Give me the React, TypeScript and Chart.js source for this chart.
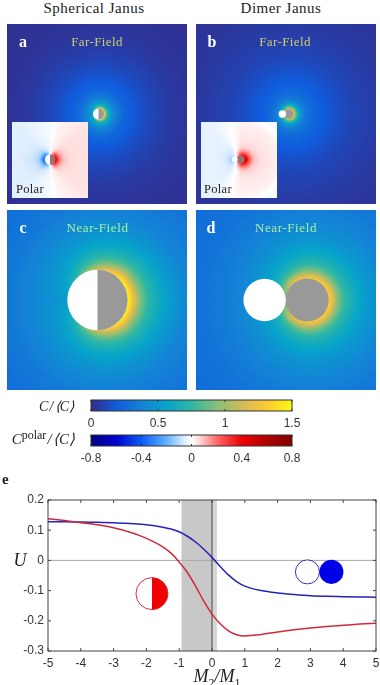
import React, { useEffect, useRef } from "react";
import { Chart, registerables } from "chart.js";

Chart.register(...registerables);

/* ---------- line panel e ---------- */
const ratioX = [-5, -4.5, -4, -3.5, -3, -2.5, -2, -1.5, -1.25, -1, -0.75, -0.5, -0.25, 0, 0.25, 0.5, 0.75, 1, 1.5, 2, 2.5, 3, 3.5, 4, 4.5, 5];
const dimerU = [0.128, 0.128, 0.127, 0.126, 0.125, 0.122, 0.118, 0.11, 0.104, 0.095, 0.08, 0.061, 0.037, 0.01, -0.02, -0.048, -0.07, -0.085, -0.1, -0.108, -0.113, -0.117, -0.119, -0.12, -0.121, -0.122];
const janusU = [0.138, 0.132, 0.125, 0.118, 0.108, 0.093, 0.073, 0.045, 0.024, -0.005, -0.04, -0.085, -0.135, -0.178, -0.21, -0.233, -0.246, -0.25, -0.245, -0.237, -0.23, -0.224, -0.219, -0.215, -0.211, -0.208];
const xTicks = [-5, -4, -3, -2, -1, 0, 1, 2, 3, 4, 5];
const yTicks = [-0.3, -0.2, -0.1, 0, 0.1, 0.2];
const bandDark = [-0.93, 0];
const bandLight = [0, 0.15];
const janusIcon = [-1.83, -0.11, 0.488];
const dimerIconLeft = [2.91, -0.038, 0.366];
const dimerIconRight = [3.64, -0.038, 0.366];

/* ---------- colour maps ---------- */
const parulaStops: [number, string][] = [
  [0, "#352a87"], [0.1875, "#0f5cdd"], [0.375, "#1481d6"], [0.5625, "#06a4ca"], [0.75, "#2eb7a4"],
  [0.9375, "#87bf77"], [1.125, "#d1bb59"], [1.3125, "#fec832"], [1.5, "#f9fb0e"],
];
const polarStops: [number, string][] = [
  [-0.8, "#00007f"], [-0.6, "#0000d0"], [-0.4, "#0a5cf5"], [-0.2, "#60b0ff"], [-0.06, "#dcecff"], [0, "#ffffff"],
  [0.06, "#ffdcdc"], [0.2, "#ff6a6a"], [0.4, "#ef0000"], [0.6, "#b00000"], [0.8, "#7f0000"],
];
const parulaTicks = [0, 0.5, 1, 1.5];
const polarTicks = [-0.8, -0.4, 0, 0.4, 0.8];

/* ---------- fields, read by eye: value by angle (rows) and radius (columns) ---------- */
const anglesFive = [0, 45, 90, 135, 180];
const radiiC = [30, 32, 36, 42, 50, 60, 70, 90, 135];
const fieldC = [
  [1.5, 1.42, 1.22, 0.95, 0.76, 0.63, 0.54, 0.4, 0.29],
  [1.45, 1.38, 1.15, 0.9, 0.72, 0.6, 0.5, 0.38, 0.28],
  [1.2, 1.05, 0.88, 0.74, 0.62, 0.52, 0.46, 0.37, 0.27],
  [0.7, 0.68, 0.62, 0.56, 0.5, 0.45, 0.41, 0.34, 0.26],
  [0.52, 0.5, 0.48, 0.46, 0.44, 0.41, 0.38, 0.32, 0.25],
];
const radiiD = [21, 26, 30, 36, 45, 60, 80, 105, 150];
const fieldD = [
  [1.36, 1.16, 0.95, 0.78, 0.65, 0.5, 0.4, 0.34, 0.27],
  [1.36, 1.14, 0.93, 0.77, 0.63, 0.5, 0.4, 0.33, 0.27],
  [1.3, 1.08, 0.9, 0.74, 0.61, 0.48, 0.39, 0.32, 0.27],
  [1.2, 1.0, 0.8, 0.66, 0.55, 0.45, 0.37, 0.31, 0.26],
  [0.8, 0.72, 0.66, 0.6, 0.52, 0.42, 0.35, 0.3, 0.25],
];
const radiiA = [5, 6.5, 8, 10, 13, 17, 25, 40, 55, 70, 90, 135];
const fieldA = [
  [1.35, 1.2, 0.85, 0.68, 0.5, 0.37, 0.24, 0.15, 0.1, 0.065, 0.04, 0.02],
  [1.3, 1.15, 0.8, 0.64, 0.48, 0.36, 0.24, 0.15, 0.1, 0.065, 0.04, 0.02],
  [1.1, 0.95, 0.7, 0.58, 0.45, 0.34, 0.23, 0.145, 0.095, 0.06, 0.04, 0.02],
  [0.7, 0.62, 0.55, 0.5, 0.4, 0.31, 0.22, 0.14, 0.09, 0.06, 0.035, 0.02],
  [0.5, 0.48, 0.45, 0.42, 0.36, 0.29, 0.21, 0.135, 0.09, 0.055, 0.035, 0.02],
];
const radiiB = [4.5, 7, 10, 14, 20, 30, 45, 60, 80, 100, 135];
const fieldB = [
  [1.25, 0.9, 0.58, 0.38, 0.28, 0.21, 0.15, 0.105, 0.075, 0.055, 0.035],
  [1.25, 0.9, 0.58, 0.38, 0.28, 0.21, 0.15, 0.105, 0.075, 0.055, 0.035],
  [1.2, 0.85, 0.55, 0.36, 0.27, 0.2, 0.14, 0.1, 0.07, 0.05, 0.035],
  [1.1, 0.7, 0.48, 0.33, 0.25, 0.19, 0.135, 0.095, 0.07, 0.05, 0.03],
  [0.7, 0.55, 0.42, 0.32, 0.24, 0.18, 0.13, 0.09, 0.065, 0.045, 0.03],
];
const anglesPolarA = [0, 45, 75, 90, 135, 180];
const radiiPolarA = [5, 7, 10, 14, 20, 30, 45, 60, 110];
const polarA = [
  [0.55, 0.35, 0.17, 0.09, 0.065, 0.055, 0.05, 0.045, 0.04],
  [0.4, 0.25, 0.12, 0.07, 0.055, 0.05, 0.045, 0.04, 0.035],
  [0.12, 0.07, 0.04, 0.025, 0.02, 0.02, 0.015, 0.01, 0.005],
  [-0.05, -0.04, -0.03, -0.02, -0.015, -0.015, -0.015, -0.02, -0.02],
  [-0.35, -0.22, -0.12, -0.08, -0.06, -0.05, -0.05, -0.05, -0.05],
  [-0.42, -0.3, -0.14, -0.09, -0.07, -0.055, -0.05, -0.05, -0.05],
];
const anglesPolarB = [0, 90, 135, 180];
const radiiPolarB = [4, 6, 9, 13, 20, 30, 38, 45, 110];
const polarB = [
  [0.55, 0.42, 0.22, 0.1, 0.055, 0.04, 0.03, 0.0, -0.04],
  [0.3, 0.22, 0.12, 0.06, 0.04, 0.03, 0.015, -0.03, -0.04],
  [0.12, 0.06, -0.04, -0.06, -0.045, -0.04, -0.04, -0.04, -0.04],
  [0, -0.3, -0.15, -0.08, -0.05, -0.04, -0.04, -0.04, -0.04],
];

/* centre x, centre y, radius, in panel units */
const panelCJanus = [0.5, 0, 30.2];
const panelAJanus = [1.5, 0, 5.6];
const panelAInsetJanus = [-47, -45.5, 5.2];
const panelDCold = [-21.4, 0, 21.2];
const panelDHot = [21.2, 0, 21.5];
const panelBCold = [-3.7, 0, 3.7];
const panelBHot = [2.7, 0, 4.7];
const panelBInsetCold = [-51.3, -45.5, 3.0];
const panelBInsetHot = [-45.3, -45.5, 4.0];

/* ---------- helpers ---------- */
function hexRgb(h: string) {
  return [parseInt(h.slice(1, 3), 16), parseInt(h.slice(3, 5), 16), parseInt(h.slice(5, 7), 16)];
}
function colorOf(stops: [number, string][], v: number) {
  if (v <= stops[0][0]) return hexRgb(stops[0][1]);
  for (let i = 1; i < stops.length; i++) {
    if (v <= stops[i][0]) {
      const t = (v - stops[i - 1][0]) / (stops[i][0] - stops[i - 1][0]);
      const a = hexRgb(stops[i - 1][1]);
      const b = hexRgb(stops[i][1]);
      return [a[0] + (b[0] - a[0]) * t, a[1] + (b[1] - a[1]) * t, a[2] + (b[2] - a[2]) * t];
    }
  }
  return hexRgb(stops[stops.length - 1][1]);
}
function locate(arr: number[], v: number): [number, number] {
  if (v <= arr[0]) return [0, 0];
  for (let i = 1; i < arr.length; i++) {
    if (v <= arr[i]) return [i - 1, (v - arr[i - 1]) / (arr[i] - arr[i - 1])];
  }
  return [arr.length - 2, 1];
}
type Field = { cx: number; cy: number; angles: number[]; radii: number[]; table: number[][]; stops: [number, string][] };

function paintField(chart: any, f: Field, x0: number, x1: number, y0: number, y1: number) {
  const xs = chart.scales.x;
  const ys = chart.scales.y;
  const px0 = Math.round(xs.getPixelForValue(x0));
  const px1 = Math.round(xs.getPixelForValue(x1));
  const py0 = Math.round(ys.getPixelForValue(y1));
  const py1 = Math.round(ys.getPixelForValue(y0));
  const w = px1 - px0;
  const h = py1 - py0;
  const img = chart.ctx.createImageData(w, h);
  for (let j = 0; j < h; j++) {
    for (let i = 0; i < w; i++) {
      const dx = xs.getValueForPixel(px0 + i + 0.5) - f.cx;
      const dy = ys.getValueForPixel(py0 + j + 0.5) - f.cy;
      const r = Math.hypot(dx, dy);
      const th = (Math.atan2(Math.abs(dy), dx) * 180) / Math.PI;
      const [ai, at] = locate(f.angles, th);
      const [ri, rt] = locate(f.radii, r);
      const a = f.table[ai][ri] + (f.table[ai][ri + 1] - f.table[ai][ri]) * rt;
      const b = f.table[ai + 1][ri] + (f.table[ai + 1][ri + 1] - f.table[ai + 1][ri]) * rt;
      const c = colorOf(f.stops, a + (b - a) * at);
      const k = (j * w + i) * 4;
      img.data[k] = c[0];
      img.data[k + 1] = c[1];
      img.data[k + 2] = c[2];
      img.data[k + 3] = 255;
    }
  }
  chart.ctx.putImageData(img, px0, py0);
}

function disc(chart: any, c: number[], fill: string, rim?: string, rimW = 1) {
  const xs = chart.scales.x;
  const ys = chart.scales.y;
  const x = xs.getPixelForValue(c[0]);
  const y = ys.getPixelForValue(c[1]);
  const r = Math.abs(xs.getPixelForValue(c[0] + c[2]) - x);
  const ctx = chart.ctx;
  ctx.beginPath();
  ctx.arc(x, y, r, 0, Math.PI * 2);
  ctx.fillStyle = fill;
  ctx.fill();
  if (rim) {
    ctx.strokeStyle = rim;
    ctx.lineWidth = rimW;
    ctx.stroke();
  }
}
function halfDisc(chart: any, c: number[], fill: string) {
  const xs = chart.scales.x;
  const ys = chart.scales.y;
  const x = xs.getPixelForValue(c[0]);
  const y = ys.getPixelForValue(c[1]);
  const r = Math.abs(xs.getPixelForValue(c[0] + c[2]) - x);
  const ctx = chart.ctx;
  ctx.beginPath();
  ctx.arc(x, y, r, -Math.PI / 2, Math.PI / 2);
  ctx.closePath();
  ctx.fillStyle = fill;
  ctx.fill();
}

const hiddenAxis = { type: "linear", min: -90, max: 90, display: false };

function panelConfig(draw: (chart: any) => void) {
  return {
    type: "scatter",
    data: { datasets: [] },
    options: {
      animation: false,
      responsive: false,
      layout: { padding: 0 },
      plugins: { legend: { display: false }, tooltip: { enabled: false } },
      scales: { x: hiddenAxis, y: hiddenAxis },
    },
    plugins: [{ id: "field", beforeDatasetsDraw: draw }],
  };
}

function tickFormat(v: any) {
  return v === 0 ? "0" : String(v);
}

function barConfig(stops: [number, string][], ticks: number[]) {
  return {
    type: "scatter",
    data: { datasets: [] },
    options: {
      animation: false,
      responsive: false,
      layout: { padding: { left: 40, right: 40, top: 1, bottom: 0 } },
      plugins: { legend: { display: false }, tooltip: { enabled: false } },
      scales: {
        y: { display: false, min: 0, max: 1 },
        x: {
          type: "linear",
          min: ticks[0],
          max: ticks[ticks.length - 1],
          grid: { display: false, drawTicks: false },
          border: { display: false },
          afterBuildTicks: (s: any) => { s.ticks = ticks.map((value) => ({ value })); },
          afterFit: (s: any) => { s.height = 20; s.paddingLeft = 0; s.paddingRight = 0; },
          ticks: {
            padding: 5,
            maxRotation: 0,
            autoSkip: false,
            color: "#333333",
            font: { family: "Liberation Sans", size: 12 },
            callback: tickFormat,
          },
        },
      },
    },
    plugins: [{
      id: "ramp",
      beforeDatasetsDraw(chart: any) {
        const { ctx, chartArea: a, scales } = chart;
        const span = ticks[ticks.length - 1] - ticks[0];
        const g = ctx.createLinearGradient(a.left, 0, a.right, 0);
        stops.forEach(([v, c]) => g.addColorStop((v - ticks[0]) / span, c));
        ctx.fillStyle = g;
        ctx.fillRect(a.left, a.top, a.right - a.left, a.bottom - a.top);
        ctx.strokeStyle = "#333333";
        ctx.lineWidth = 1;
        ctx.strokeRect(a.left, a.top, a.right - a.left, a.bottom - a.top);
        ticks.forEach((v) => {
          const x = scales.x.getPixelForValue(v);
          ctx.beginPath();
          ctx.moveTo(x, a.bottom);
          ctx.lineTo(x, a.bottom - 2);
          ctx.moveTo(x, a.top);
          ctx.lineTo(x, a.top + 2);
          ctx.stroke();
        });
      },
    }],
  };
}

const potentialConfig = {
  type: "line",
  data: {
    labels: ratioX,
    datasets: [
      {
        label: "Spherical Janus",
        data: ratioX.map((x, i) => ({ x, y: janusU[i] })),
        borderColor: "#cf2a3c",
        borderWidth: 1.5,
        pointRadius: 0,
        cubicInterpolationMode: "monotone",
      },
      {
        label: "Dimer Janus",
        data: ratioX.map((x, i) => ({ x, y: dimerU[i] })),
        borderColor: "#2424b8",
        borderWidth: 1.5,
        pointRadius: 0,
        cubicInterpolationMode: "monotone",
      },
    ],
  },
  options: {
    animation: false,
    responsive: false,
    layout: { padding: { left: 0, right: 4, top: 10, bottom: 0 } },
    plugins: { legend: { display: false }, tooltip: { enabled: false } },
    scales: {
      x: {
        type: "linear",
        min: -5,
        max: 5,
        grid: { display: false, drawTicks: false },
        border: { display: false },
        afterBuildTicks: (s: any) => { s.ticks = xTicks.map((value) => ({ value })); },
        afterFit: (s: any) => { s.height = 34; s.paddingLeft = 0; s.paddingRight = 0; },
        ticks: { padding: 5, maxRotation: 0, autoSkip: false, color: "#333333", font: { family: "Liberation Sans", size: 12 }, callback: tickFormat },
      },
      y: {
        type: "linear",
        min: -0.3,
        max: 0.2,
        grid: { display: false, drawTicks: false },
        border: { display: false },
        afterBuildTicks: (s: any) => { s.ticks = yTicks.map((value) => ({ value })); },
        afterFit: (s: any) => { s.width = 48; s.paddingTop = 0; s.paddingBottom = 0; },
        ticks: { padding: 4, autoSkip: false, color: "#333333", font: { family: "Liberation Sans", size: 12 }, callback: tickFormat },
      },
    },
  },
  plugins: [{
    id: "decor",
    beforeDatasetsDraw(chart: any) {
      const { ctx, chartArea: a, scales } = chart;
      const band = (b: number[], c: string) => {
        const l = scales.x.getPixelForValue(b[0]);
        ctx.fillStyle = c;
        ctx.fillRect(l, a.top, scales.x.getPixelForValue(b[1]) - l, a.bottom - a.top);
      };
      band(bandDark, "#c8c8c8");
      band(bandLight, "#d6d6d6");
      ctx.lineWidth = 1;
      const y0 = scales.y.getPixelForValue(0);
      ctx.strokeStyle = "#a8a8a8";
      ctx.beginPath();
      ctx.moveTo(a.left, y0);
      ctx.lineTo(a.right, y0);
      ctx.stroke();
      const x0 = scales.x.getPixelForValue(0);
      ctx.strokeStyle = "#444444";
      ctx.beginPath();
      ctx.moveTo(x0, a.top);
      ctx.lineTo(x0, a.bottom);
      ctx.stroke();
    },
    afterDatasetsDraw(chart: any) {
      const { ctx, chartArea: a, scales } = chart;
      disc(chart, janusIcon, "#ffffff");
      halfDisc(chart, janusIcon, "#f00000");
      disc(chart, janusIcon, "transparent", "#cf3040", 1);
      disc(chart, dimerIconLeft, "#ffffff", "#3030b0", 1);
      disc(chart, dimerIconRight, "#0000e8");
      ctx.strokeStyle = "#444444";
      ctx.lineWidth = 1;
      ctx.strokeRect(a.left, a.top, a.right - a.left, a.bottom - a.top);
      ctx.beginPath();
      xTicks.forEach((v) => {
        const x = scales.x.getPixelForValue(v);
        ctx.moveTo(x, a.bottom);
        ctx.lineTo(x, a.bottom - 3);
        ctx.moveTo(x, a.top);
        ctx.lineTo(x, a.top + 3);
      });
      yTicks.forEach((v) => {
        const y = scales.y.getPixelForValue(v);
        ctx.moveTo(a.left, y);
        ctx.lineTo(a.left + 3, y);
        ctx.moveTo(a.right, y);
        ctx.lineTo(a.right - 3, y);
      });
      ctx.stroke();
    },
  }],
};

const insetRange = [-85.5, -9.5, -83.5, -7.5];

const configA = panelConfig((chart) => {
  paintField(chart, { cx: panelAJanus[0], cy: 0, angles: anglesFive, radii: radiiA, table: fieldA, stops: parulaStops }, -90, 90, -90, 90);
  disc(chart, panelAJanus, "#ffffff");
  halfDisc(chart, panelAJanus, "#9a9a9a");
  paintField(chart, { cx: panelAInsetJanus[0], cy: panelAInsetJanus[1], angles: anglesPolarA, radii: radiiPolarA, table: polarA, stops: polarStops }, insetRange[0], insetRange[1], insetRange[2], insetRange[3]);
  disc(chart, panelAInsetJanus, "#ffffff");
  halfDisc(chart, panelAInsetJanus, "#9a7070");
});
const configB = panelConfig((chart) => {
  paintField(chart, { cx: panelBHot[0], cy: 0, angles: anglesFive, radii: radiiB, table: fieldB, stops: parulaStops }, -90, 90, -90, 90);
  disc(chart, panelBHot, "#9a9a9a");
  disc(chart, panelBCold, "#ffffff");
  paintField(chart, { cx: panelBInsetHot[0], cy: panelBInsetHot[1], angles: anglesPolarB, radii: radiiPolarB, table: polarB, stops: polarStops }, insetRange[0], insetRange[1], insetRange[2], insetRange[3]);
  disc(chart, panelBInsetHot, "#9a7070");
  disc(chart, panelBInsetCold, "#ffffff");
});
const configC = panelConfig((chart) => {
  paintField(chart, { cx: panelCJanus[0], cy: 0, angles: anglesFive, radii: radiiC, table: fieldC, stops: parulaStops }, -90, 90, -90, 90);
  disc(chart, panelCJanus, "#ffffff");
  halfDisc(chart, panelCJanus, "#999999");
});
const configD = panelConfig((chart) => {
  paintField(chart, { cx: panelDHot[0], cy: 0, angles: anglesFive, radii: radiiD, table: fieldD, stops: parulaStops }, -90, 90, -90, 90);
  disc(chart, panelDHot, "#999999");
  disc(chart, panelDCold, "#ffffff");
});

function ChartBox({ config, left, top, width, height }: any) {
  const ref = useRef<HTMLCanvasElement | null>(null);
  useEffect(() => {
    const chart = new Chart(ref.current as any, config);
    return () => chart.destroy();
  }, [config]);
  return (
    <canvas ref={ref} width={width} height={height} style={{ position: "absolute", left, top, width, height, display: "block" }} />
  );
}

function Txt({ x, y, children, size = 13, color = "#222222", anchor = "center", family = "Liberation Serif", italic = false, bold = false, spacing = 0 }: any) {
  const tx = anchor === "center" ? "-50%" : anchor === "right" ? "-100%" : "0";
  return (
    <div
      style={{
        position: "absolute",
        left: x,
        top: y,
        transform: `translate(${tx}, -50%)`,
        fontFamily: family,
        fontSize: size,
        color,
        fontStyle: italic ? "italic" : "normal",
        fontWeight: bold ? 700 : 400,
        letterSpacing: spacing,
        whiteSpace: "nowrap",
        lineHeight: 1,
      }}
    >
      {children}
    </div>
  );
}

const parulaBar = barConfig(parulaStops, parulaTicks);
const polarBar = barConfig(polarStops, polarTicks);

export default function App() {
  return (
    <div style={{ position: "absolute", left: 0, top: 0, width: 380, height: 685, background: "#ffffff", overflow: "hidden" }}>
      <ChartBox config={configA} left={7} top={24} width={180} height={180} />
      <ChartBox config={configB} left={196} top={24} width={180} height={180} />
      <ChartBox config={configC} left={7} top={210} width={180} height={180} />
      <ChartBox config={configD} left={196} top={210} width={180} height={180} />
      <ChartBox config={parulaBar} left={51} top={399} width={281} height={32} />
      <ChartBox config={polarBar} left={51} top={434} width={281} height={32} />
      <ChartBox config={potentialConfig} left={0} top={490} width={380} height={195} />

      <Txt x={94} y={8} size={15} spacing={0.5}>Spherical Janus</Txt>
      <Txt x={281} y={8} size={15} spacing={0.5}>Dimer Janus</Txt>

      <Txt x={23} y={42} size={16} bold color="#ffffff">a</Txt>
      <Txt x={212} y={42} size={16} bold color="#ffffff">b</Txt>
      <Txt x={23} y={228} size={16} bold color="#ffffff">c</Txt>
      <Txt x={211} y={228} size={16} bold color="#ffffff">d</Txt>

      <Txt x={97} y={41} size={13} spacing={0.4} color="#cfcf6e">Far-Field</Txt>
      <Txt x={285} y={41} size={13} spacing={0.4} color="#cfcf6e">Far-Field</Txt>
      <Txt x={97.5} y={227} size={13} spacing={0.6} color="#a6f0a0">Near-Field</Txt>
      <Txt x={286} y={227} size={13} spacing={0.6} color="#a6f0a0">Near-Field</Txt>
      <Txt x={16} y={189} size={12.5} anchor="left" spacing={0.3}>Polar</Txt>
      <Txt x={204} y={189} size={12.5} anchor="left" spacing={0.3}>Polar</Txt>

      <Txt x={74} y={407} size={14} anchor="right" italic>C&#8202;/&#8202;⟨C⟩</Txt>
      <Txt x={75} y={439} size={15} anchor="right" italic>
        C<span style={{ fontStyle: "normal", fontSize: 12, position: "relative", top: -5 }}>polar</span>&#8202;/&#8202;⟨C⟩
      </Txt>

      <Txt x={2} y={479} size={15} bold anchor="left">e</Txt>
      <Txt x={20} y={560} size={18} italic>U</Txt>
      <Txt x={217} y={676} size={18} italic>
        M<sub style={{ fontSize: 12, fontStyle: "normal", lineHeight: 0 }}>2</sub>/M<sub style={{ fontSize: 12, fontStyle: "normal", lineHeight: 0 }}>1</sub>
      </Txt>
    </div>
  );
}
